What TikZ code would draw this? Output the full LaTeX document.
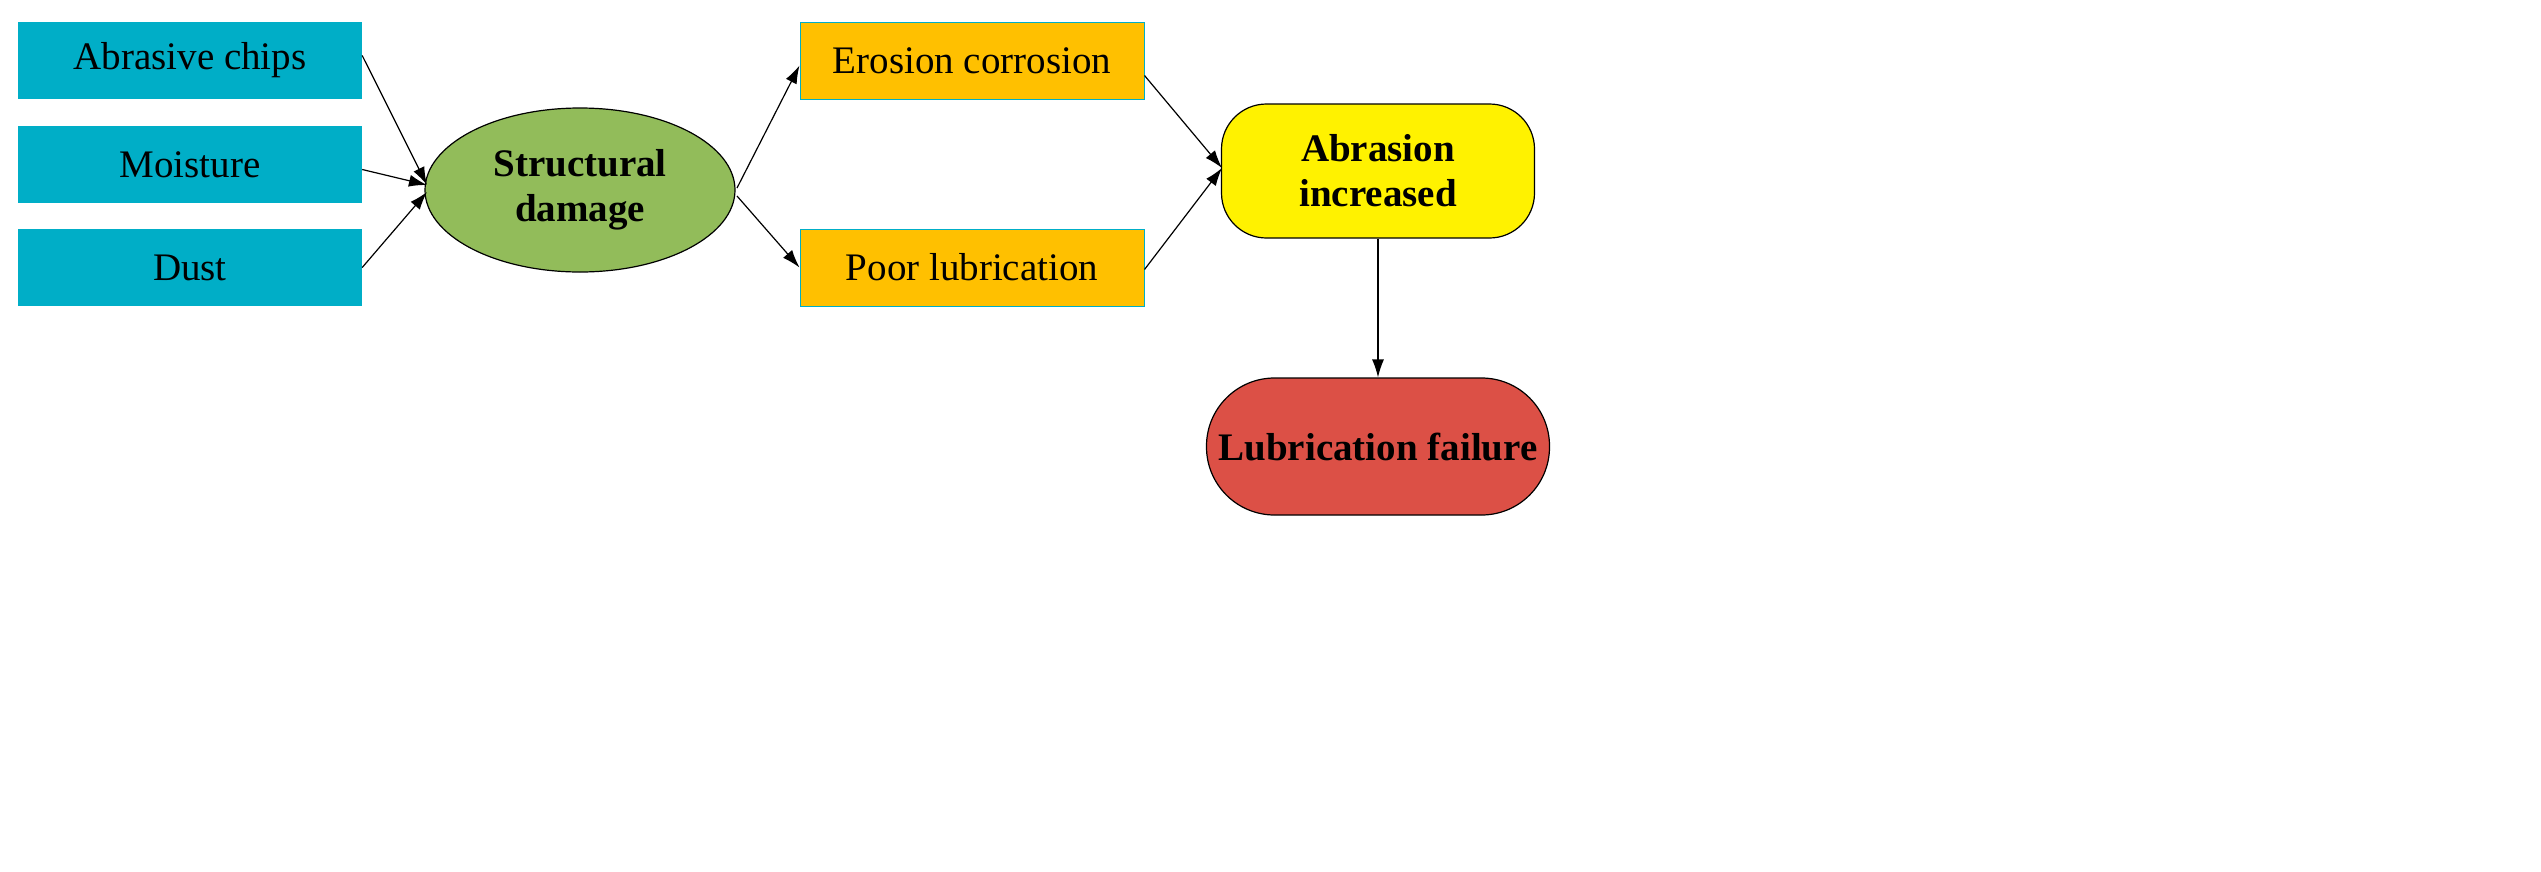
\documentclass[tikz,border=0pt]{standalone}
\usepackage{fontspec}
\setmainfont{Liberation Serif}
\usetikzlibrary{shapes.geometric,arrows.meta}
\definecolor{cb}{RGB}{0,174,199}
\definecolor{cg}{RGB}{146,188,90}
\definecolor{co}{RGB}{255,192,0}
\definecolor{cr}{RGB}{220,80,70}
\begin{document}
\begin{tikzpicture}[x=1pt,y=-1pt,
 every node/.style={font=\fontsize{39}{45}\selectfont},
 bx/.style={draw=none,fill=cb,minimum width=344pt,minimum height=77pt,inner sep=0},
 ob/.style={draw=cb,line width=1pt,fill=co,minimum width=344pt,minimum height=77pt,inner sep=0},
 ar/.style={-{Latex[length=18pt,width=12pt]},line width=1.2pt}]
\useasboundingbox (0,0) rectangle (2541,871);
\node[bx] (a) at (190,60.5) {Abrasive chips};
\node[bx] (m) at (190,164.5) {Moisture};
\node[bx] (d) at (190,267.5) {Dust};
\node[ellipse,draw,line width=1.2pt,fill=cg,minimum width=310pt,minimum height=164pt,align=center,inner sep=0,font=\fontsize{39}{45}\selectfont\bfseries] (s) at (580,190) {Structural\\damage};
\node[ob] (e) at (972,60.5) {Erosion corrosion};
\node[ob] (p) at (972,267.5) {Poor lubrication};
\node[draw,line width=1.2pt,fill=yellow,rounded corners=45pt,minimum width=313pt,minimum height=134pt,align=center,font=\fontsize{39}{45}\selectfont\bfseries] (y) at (1378,171) {Abrasion\\increased};
\node[draw,line width=1.2pt,fill=cr,rounded corners=68pt,minimum width=343pt,minimum height=137pt,font=\fontsize{39}{45}\selectfont\bfseries] (r) at (1378,446.5) {Lubrication failure};
\coordinate (sl) at (427,185);
\draw[ar] (a.east) ++(0,-5) -- (sl);
\draw[ar] (m.east) ++(0,5) -- (sl);
\draw[ar] (d.east) -- (427,192);
\draw[ar] (737,188) -- ([yshift=-5pt]e.west);
\draw[ar] (737,196) -- (p.west);
\coordinate (yl) at (1222,168);
\draw[ar] ([yshift=-15pt]e.east) -- (yl);
\draw[ar] ([yshift=-2pt]p.east) -- (yl);
\draw[ar] (y.south) -- (r.north);
\end{tikzpicture}
\end{document}
